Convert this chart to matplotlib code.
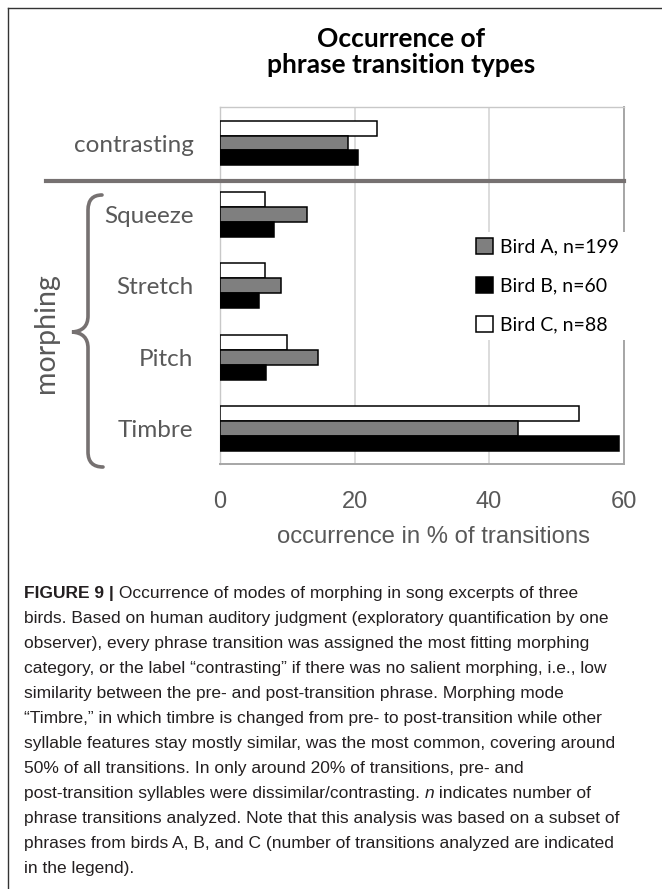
import matplotlib.pyplot as plt
from matplotlib.path import Path
from matplotlib.patches import PathPatch, Patch
from matplotlib.lines import Line2D
import numpy as np

# data
categories = ['contrasting', 'Squeeze', 'Stretch', 'Pitch', 'Timbre']
bird_a = [19.1, 13.0, 9.0, 14.5, 44.3]
bird_b = [20.5, 8.1, 5.8, 6.9, 59.3]
bird_c = [23.4, 6.7, 6.7, 10.0, 53.4]
series_labels = ['Bird A, n=199', 'Bird B, n=60', 'Bird C, n=88']
xticks = [0, 20, 40, 60]

caption_lines = [
    'birds. Based on human auditory judgment (exploratory quantification by one',
    'observer), every phrase transition was assigned the most fitting morphing',
    'category, or the label \u201ccontrasting\u201d if there was no salient morphing, i.e., low',
    'similarity between the pre- and post-transition phrase. Morphing mode',
    '\u201cTimbre,\u201d in which timbre is changed from pre- to post-transition while other',
    'syllable features stay mostly similar, was the most common, covering around',
    '50% of all transitions. In only around 20% of transitions, pre- and',
    None,  # line with italic n
    'phrase transitions analyzed. Note that this analysis was based on a subset of',
    'phrases from birds A, B, and C (number of transitions analyzed are indicated',
    'in the legend).',
]

W, H = 662, 889


def fx(x):
    return x / W


def fy(y):
    return 1 - y / H


grey_txt = '#595959'
dark = '#767171'
cap_col = '#231f20'
lab_font = 'Lato'
num_font = 'Liberation Sans'

fig = plt.figure(figsize=(6.62, 8.89), dpi=100)

# main axes
top, bot, left, right = 107.3, 464.3, 220, 623.6
ax = fig.add_axes([fx(left), fy(bot), fx(right) - fx(left), (bot - top) / H])

y = np.arange(len(categories))
h = 0.21
bc = ax.barh(y - h, bird_c, height=h, color='white', edgecolor='black', linewidth=1.1, zorder=3)
ba = ax.barh(y, bird_a, height=h, color='#7f7f7f', edgecolor='black', linewidth=1.1, zorder=3)
bb = ax.barh(y + h, bird_b, height=h, color='black', edgecolor='black', linewidth=1.1, zorder=3)

ax.set_xlim(0, 60)
ax.set_ylim(len(categories) - 0.5, -0.5)
ax.set_xticks(xticks)
ax.set_xticklabels([str(t) for t in xticks], fontsize=17, color=grey_txt, family=num_font)
ax.tick_params(axis='x', length=0, pad=19)
ax.set_yticks(y)
ax.set_yticklabels(categories, fontsize=17.5, color=grey_txt, family=lab_font)
ax.tick_params(axis='y', length=0, pad=19)
ax.xaxis.grid(True, color='#d9d9d9', linewidth=1.3, zorder=0)
ax.set_axisbelow(True)
for s in ['top', 'left']:
    ax.spines[s].set_color('#c8c8c8')
    ax.spines[s].set_linewidth(1)
for s in ['right', 'bottom']:
    ax.spines[s].set_color('#a6a6a6')
    ax.spines[s].set_linewidth(1.4)

fig.text(fx(433.6), fy(537), 'occurrence in % of transitions', ha='center', va='center',
         fontsize=17.2, color=grey_txt, family=num_font)

# legend
handles = [Patch(facecolor='#7f7f7f', edgecolor='black', linewidth=1.1),
           Patch(facecolor='black', edgecolor='black', linewidth=1.1),
           Patch(facecolor='white', edgecolor='black', linewidth=1.1)]
leg = ax.legend(handles, series_labels, loc='upper left', bbox_to_anchor=(fx(460), fy(222)),
                bbox_transform=fig.transFigure, frameon=True, fancybox=False,
                facecolor='white', edgecolor='none', framealpha=1,
                handlelength=0.9, handleheight=0.9, handletextpad=0.35,
                labelspacing=1.1, borderpad=0.3, prop={'family': lab_font, 'size': 14})
leg.set_zorder(5)

# separator between contrasting and morphing
fig.add_artist(Line2D([fx(45.7), fx(right)], [fy(181), fy(181)], color=dark, lw=3, zorder=10))

# brace
pts = [(102, 195), (88, 195), (88, 210), (88, 316), (88, 331), (72, 332),
       (88, 333), (88, 348), (88, 452), (88, 467), (103, 467)]
codes = [Path.MOVETO, Path.CURVE3, Path.CURVE3, Path.LINETO, Path.CURVE3, Path.CURVE3,
         Path.CURVE3, Path.CURVE3, Path.LINETO, Path.CURVE3, Path.CURVE3]
brace = Path([(fx(a), fy(b)) for a, b in pts], codes)
fig.add_artist(PathPatch(brace, fill=False, lw=2.6, edgecolor=dark, capstyle='round',
                         transform=fig.transFigure))
fig.text(fx(46), fy(333), 'morphing', rotation=90, ha='center', va='center',
         fontsize=20.5, color=grey_txt, family=lab_font)

# title
fig.text(fx(401), fy(47), 'Occurrence of', ha='center', va='baseline',
         fontsize=19, weight='bold', family=lab_font)
fig.text(fx(401), fy(73), 'phrase transition types', ha='center', va='baseline',
         fontsize=19, weight='bold', family=lab_font)

# panel frame
fig.add_artist(Line2D([fx(7.5), fx(7.5)], [fy(8), fy(889)], color='#333333', lw=1))
fig.add_artist(Line2D([fx(7.5), fx(662)], [fy(8), fy(8)], color='#333333', lw=1))

# caption
cap_size = 12.5
x0 = fx(24)
t = fig.text(x0, fy(598), 'FIGURE 9 |', fontsize=cap_size, weight='bold', color=cap_col,
             family=num_font, va='baseline')
ax.annotate(' Occurrence of modes of morphing in song excerpts of three', xy=(1, 0),
            xycoords=t, va='bottom', fontsize=cap_size, color=cap_col, family=num_font,
            annotation_clip=False)
for i, line in enumerate(caption_lines):
    yb = fy(623 + 25 * i)
    if line is None:
        t1 = fig.text(x0, yb, 'post-transition syllables were dissimilar/contrasting. ',
                      fontsize=cap_size, color=cap_col, family=num_font, va='baseline')
        t2 = ax.annotate('n', xy=(1, 0), xycoords=t1, va='bottom', fontsize=cap_size,
                         color=cap_col, family=num_font, style='italic', annotation_clip=False)
        ax.annotate(' indicates number of', xy=(1, 0), xycoords=t2, va='bottom',
                    fontsize=cap_size, color=cap_col, family=num_font, annotation_clip=False)
    else:
        fig.text(x0, yb, line, fontsize=cap_size, color=cap_col, family=num_font, va='baseline')

fig.savefig('out.png', dpi=100)
